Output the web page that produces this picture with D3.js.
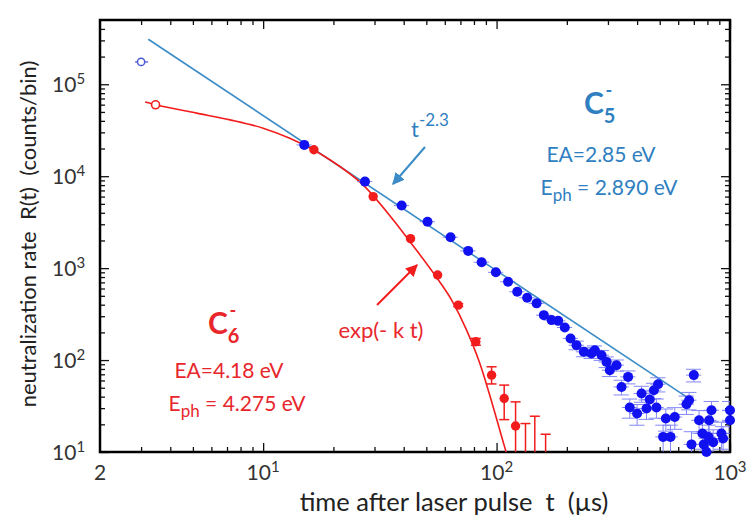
<!DOCTYPE html>
<html>
<head>
<meta charset="utf-8">
<script src="https://cdn.jsdelivr.net/npm/d3@7"></script>
<style>
  body { margin: 0; background: #fff; }
  svg { font-family: Lato, "Open Sans", sans-serif; }
</style>
</head>
<body>
<svg id="chart" width="749" height="518"></svg>
<script>
// C5- data (time in µs, rate in counts/bin)
const blueT = [15.0, 27.3, 39.2, 50.6, 63.5, 75.6, 86.3, 99.3, 112, 122.6, 135.2, 148.4, 159.4, 172, 183.6, 196,
  207.4, 220, 236.4, 255, 263.6, 281.6, 296, 305.6, 326.6, 343, 366, 372, 400, 418, 439, 453, 472, 484, 492,
  517, 531, 556, 580, 651, 668, 684, 700, 737, 762, 772, 793, 808, 814, 833, 847, 919, 934, 1000, 1000]
const blueR = [2.19e4, 8.73e3, 4.79e3, 3.2e3, 2.17e3, 1.54e3, 1.16e3, 900, 711, 553, 476, 414, 308, 272, 267, 226,
  172, 145, 123, 118, 128, 113, 95.5, 77.6, 88, 51, 65.6, 30.5, 26.2, 43.3, 29.7, 37.2, 47, 30.5, 54.6,
  14.6, 23.1, 14.6, 24, 33.1, 36.6, 12.1, 68.6, 22.1, 15.9, 12.1, 10.0, 14.6, 22.1, 28.5, 12.8, 15.9, 14, 28.5, 22.1]
const blueOpen = { t: 3.0, r: 1.75e5 }
// fitted power law, drawn between its two end points
const blueFitT = [3.22, 651]
const blueFitR = [3.09e5, 39.7]

// C6- data
const redT = [16.5, 29.6, 42.8, 55.9, 68.5, 81.5, 95.2, 107.8, 120.6, 133, 145.8, 162.2]
const redR = [1.94e4, 6.0e3, 2.09e3, 841, 396, 158, 68.5, 38.2, 19.2, 5, 5, 5]
const redHi = [1.94e4, 6.0e3, 2.09e3, 841, 410, 172, 84.5, 53.4, 35.1, 20.4, 24.5, 15.6]
const redLo = [1.94e4, 6.0e3, 2.09e3, 841, 382, 145, 55, 22.5, 8, 3, 3, 3]
const redOpen = { t: 3.46, r: 5.98e4 }
const redFitT = [3.12, 3.46, 5.19, 7.21, 10.0, 13.0, 16.4, 19.3, 26.8, 36.1, 43.9, 54.4, 64.2, 74.4, 84.8, 96.7, 108.3, 112]
const redFitR = [6.4e4, 5.98e4, 4.85e4, 4.10e4, 3.33e4, 2.59e4, 1.94e4, 1.51e4, 8.04e3, 3.34e3, 1.75e3, 841, 449, 212, 91.8, 30.9, 11.3, 8.5]

const xMajor = [10, 100, 1000]
const xMinor = [3, 4, 5, 6, 7, 8, 9, 20, 30, 40, 50, 60, 70, 80, 90, 200, 300, 400, 500, 600, 700, 800, 900]
const yMajor = [10, 100, 1e3, 1e4, 1e5]
const yMinor = [20, 30, 40, 50, 60, 70, 80, 90, 200, 300, 400, 500, 600, 700, 800, 900,
  2e3, 3e3, 4e3, 5e3, 6e3, 7e3, 8e3, 9e3, 2e4, 3e4, 4e4, 5e4, 6e4, 7e4, 8e4, 9e4, 2e5, 3e5, 4e5]
const xTickLabels = [{ v: 2, base: "2", exp: "" }, { v: 10, base: "10", exp: "1" }, { v: 100, base: "10", exp: "2" }, { v: 1000, base: "10", exp: "3" }]
const yTickLabels = [{ v: 10, exp: "1" }, { v: 100, exp: "2" }, { v: 1e3, exp: "3" }, { v: 1e4, exp: "4" }, { v: 1e5, exp: "5" }]

const blueErrScale = 1.3   // Poisson-like vertical error
const binHalf = 0.075      // relative half width of time bins

const mL = 100, mR = 730, mT = 20, mB = 452
const blue = "#1010f0", blueBar = "#6f74f5", blueFit = "#3b8cc6", blueText = "#2f7fc1"
const red = "#f21c1c", redText = "#e8262c"

const svg = d3.select("#chart")
const x = d3.scaleLog().domain([2, 1000]).range([mL, mR])
const y = d3.scaleLog().domain([10, 5e5]).range([mB, mT])

const defs = svg.append("defs")
defs.append("clipPath").attr("id", "clip")
  .append("rect").attr("x", mL).attr("y", mT).attr("width", mR - mL).attr("height", mB - mT)

// ticks, inward on all four sides
function ticks(axis, vals, size, tr) {
  const g = svg.append("g").attr("transform", tr)
    .call(axis.tickValues(vals).tickSize(size).tickFormat(""))
  g.select(".domain").remove()
  g.selectAll("line").attr("stroke", "#111").attr("stroke-width", 1.3)
}
ticks(d3.axisBottom(x), xMajor, -9, `translate(0,${mB})`)
ticks(d3.axisBottom(x), xMinor, -5, `translate(0,${mB})`)
ticks(d3.axisTop(x), xMajor, -9, `translate(0,${mT})`)
ticks(d3.axisTop(x), xMinor, -5, `translate(0,${mT})`)
ticks(d3.axisLeft(y), yMajor, -9, `translate(${mL},0)`)
ticks(d3.axisLeft(y), yMinor, -5, `translate(${mL},0)`)
ticks(d3.axisRight(y), yMajor, -9, `translate(${mR},0)`)
ticks(d3.axisRight(y), yMinor, -5, `translate(${mR},0)`)

svg.append("rect").attr("x", mL).attr("y", mT).attr("width", mR - mL).attr("height", mB - mT)
  .attr("fill", "none").attr("stroke", "#000").attr("stroke-width", 2.5)

// tick labels
xTickLabels.forEach(d => {
  const t = svg.append("text").attr("x", x(d.v)).attr("y", 480).attr("text-anchor", "middle")
    .attr("fill", "#333").style("font-size", "21px")
  t.append("tspan").text(d.base)
  if (d.exp) t.append("tspan").attr("dy", -8).style("font-size", "15px").text(d.exp)
})
yTickLabels.forEach(d => {
  const t = svg.append("text").attr("x", 52).attr("y", y(d.v) + 8)
    .attr("fill", "#333").style("font-size", "21px")
  t.append("tspan").text("10")
  t.append("tspan").attr("dy", -8).style("font-size", "15px").text(d.exp)
})

svg.append("text").attr("x", 454).attr("y", 511).attr("text-anchor", "middle")
  .attr("fill", "#222").style("font-size", "25.5px").attr("xml:space", "preserve")
  .text("time after laser pulse  t  (\u00b5s)")
svg.append("text").attr("transform", "translate(36,234) rotate(-90)").attr("text-anchor", "middle")
  .attr("fill", "#222").style("font-size", "22px").attr("xml:space", "preserve")
  .text("neutralization rate  R(t)  (counts/bin)")

const plot = svg.append("g").attr("clip-path", "url(#clip)")

// fit curves
const line = d3.line().x(d => x(d[0])).y(d => y(d[1]))
plot.append("path").datum(d3.zip(blueFitT, blueFitR)).attr("d", line)
  .attr("fill", "none").attr("stroke", blueFit).attr("stroke-width", 1.6)
plot.append("path").datum(d3.zip(redFitT, redFitR)).attr("d", line.curve(d3.curveMonotoneX))
  .attr("fill", "none").attr("stroke", red).attr("stroke-width", 1.6)

// blue error bars
const blueData = d3.zip(blueT, blueR)
const eb = plot.append("g").attr("stroke", blueBar).attr("stroke-width", 1).attr("opacity", 0.85)
blueData.forEach(([t, r]) => {
  const s = blueErrScale * Math.sqrt(r)
  const x0 = x(t * (1 - binHalf)), x1 = x(t * (1 + binHalf)), cx = x(t)
  eb.append("line").attr("x1", x0).attr("x2", x1).attr("y1", y(r)).attr("y2", y(r))
  const yHi = y(r + s), yLo = y(Math.max(r - s, 1))
  if (yLo - yHi > 8) {
    eb.append("line").attr("x1", cx).attr("x2", cx).attr("y1", yHi).attr("y2", yLo)
    eb.append("line").attr("x1", x0).attr("x2", x1).attr("y1", yHi).attr("y2", yHi)
    eb.append("line").attr("x1", x0).attr("x2", x1).attr("y1", yLo).attr("y2", yLo)
  }
})

// red error bars
const rb = plot.append("g").attr("stroke", red).attr("stroke-width", 1.5)
redT.forEach((t, i) => {
  if (redHi[i] - redLo[i] < 1) return
  const cx = x(t)
  rb.append("line").attr("x1", cx).attr("x2", cx).attr("y1", y(redHi[i])).attr("y2", y(redLo[i]))
  rb.append("line").attr("x1", cx - 5).attr("x2", cx + 5).attr("y1", y(redHi[i])).attr("y2", y(redHi[i]))
  rb.append("line").attr("x1", cx - 5).attr("x2", cx + 5).attr("y1", y(redLo[i])).attr("y2", y(redLo[i]))
})

// points
svg.append("g").selectAll("circle").data(blueData).join("circle")
  .attr("cx", d => x(d[0])).attr("cy", d => y(d[1])).attr("r", 5).attr("fill", blue)
svg.append("g").selectAll("circle").data(d3.zip(redT, redR).filter(d => d[1] >= 10)).join("circle")
  .attr("cx", d => x(d[0])).attr("cy", d => y(d[1])).attr("r", 4.7).attr("fill", red)

// open markers at early times
svg.append("line").attr("x1", x(blueOpen.t) - 6).attr("x2", x(blueOpen.t) + 7)
  .attr("y1", y(blueOpen.r)).attr("y2", y(blueOpen.r)).attr("stroke", "#4a5ad0").attr("stroke-width", 1.3)
svg.append("circle").attr("cx", x(blueOpen.t)).attr("cy", y(blueOpen.r)).attr("r", 3.6)
  .attr("fill", "#fff").attr("stroke", "#4a5ad0").attr("stroke-width", 1.5)
svg.append("circle").attr("cx", x(redOpen.t)).attr("cy", y(redOpen.r)).attr("r", 4)
  .attr("fill", "#fff").attr("stroke", red).attr("stroke-width", 1.6)

// annotations
function marker(id, color) {
  defs.append("marker").attr("id", id).attr("viewBox", "0 0 10 10").attr("refX", 9).attr("refY", 5)
    .attr("markerWidth", 6).attr("markerHeight", 6).attr("orient", "auto")
    .append("path").attr("d", "M0,0L10,5L0,10z").attr("fill", color)
}
marker("ab", blueFit)
marker("ar", red)
svg.append("line").attr("x1", 425).attr("y1", 147).attr("x2", 393).attr("y2", 184)
  .attr("stroke", blueFit).attr("stroke-width", 2).attr("marker-end", "url(#ab)")
svg.append("line").attr("x1", 377).attr("y1", 305).attr("x2", 417).attr("y2", 265)
  .attr("stroke", red).attr("stroke-width", 2).attr("marker-end", "url(#ar)")

const tl = svg.append("text").attr("x", 411).attr("y", 137).attr("fill", blueText).style("font-size", "22px")
tl.append("tspan").text("t")
tl.append("tspan").attr("dy", -11).style("font-size", "17px").text("-2.3")

function species(xp, yp, sub, color) {
  const t = svg.append("text").attr("x", xp).attr("y", yp).attr("fill", color)
    .style("font-size", "30px").style("font-weight", "bold")
  t.append("tspan").text("C")
  t.append("tspan").attr("dy", 9).style("font-size", "20px").text(sub)
  t.append("tspan").attr("dx", -10).attr("dy", -26).style("font-size", "18px").text("-")
}
species(584, 114, "5", blueText)
species(208, 334, "6", redText)

function energy(xp, yp, ea, eph, color) {
  svg.append("text").attr("x", xp).attr("y", yp).attr("text-anchor", "middle").attr("fill", color)
    .style("font-size", "21px").text(`EA=${ea} eV`)
  const t = svg.append("text").attr("x", xp + 8).attr("y", yp + 33).attr("text-anchor", "middle").attr("fill", color)
    .style("font-size", "21px")
  t.append("tspan").text("E")
  t.append("tspan").attr("dy", 6).style("font-size", "17px").text("ph")
  t.append("tspan").attr("dy", -6).text(` = ${eph} eV`)
}
energy(601, 162, "2.85", "2.890", blueText)
energy(229, 378, "4.18", "4.275", redText)

svg.append("text").attr("x", 381).attr("y", 338).attr("text-anchor", "middle").attr("fill", redText)
  .style("font-size", "22px").text("exp(- k t)")
</script>
</body>
</html>
